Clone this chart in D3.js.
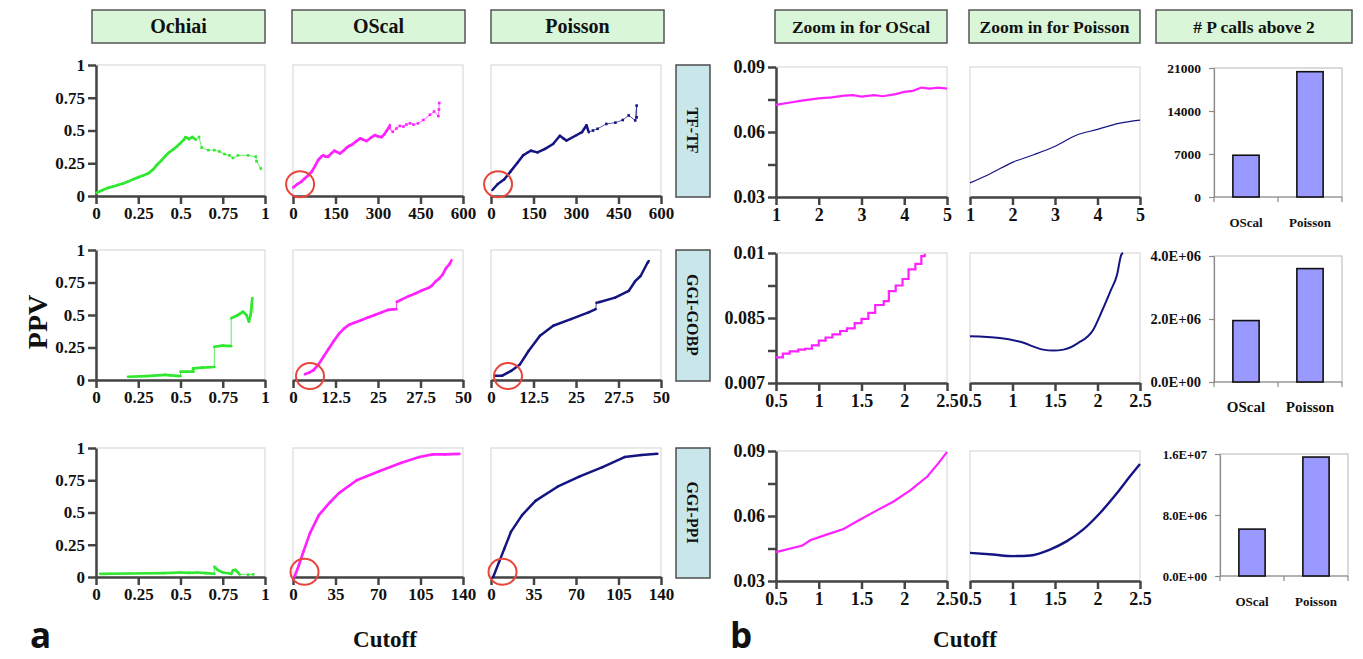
<!DOCTYPE html>
<html>
<head>
  <meta charset="utf-8"/>
  <title>PPV vs cutoff</title>
  <style>
    body { margin: 0; background: #fff; }
    text { font-family: "Liberation Serif", "Times New Roman", serif; font-weight: bold; fill: #111; }
  </style>
</head>
<body>
    <div id="graph"></div>
</body>
<script src="https://cdn.jsdelivr.net/npm/d3@7"></script>

<script>
    // ---- data ----
    var headersLeft = ["Ochiai", "OScal", "Poisson"];
    var headersRight = ["Zoom in for OScal", "Zoom in for Poisson", "# P calls above 2"];
    var rowNames = ["TF-TF", "GGI-GOBP", "GGI-PPI"];
    var barCats = ["OScal", "Poisson"];

    var ochiaiTicks = [0, 0.25, 0.5, 0.75, 1];
    var ochiaiLabels = ["0", "0.25", "0.5", "0.75", "1"];
    var cutoffTicks = [[0, 150, 300, 450, 600], [0, 12.5, 25, 37.5, 50], [0, 35, 70, 105, 140]];
    var cutoffLabels = [["0", "150", "300", "450", "600"], ["0", "12.5", "25", "27.5", "50"], ["0", "35", "70", "105", "140"]];
    var zoomXTicks = [[1, 2, 3, 4, 5], [0.5, 1, 1.5, 2, 2.5], [0.5, 1, 1.5, 2, 2.5]];
    var zoomXLabels = [["1", "2", "3", "4", "5"], ["0.5", "1", "1.5", "2", "2.5"], ["0.5", "1", "1.5", "2", "2.5"]];
    var zoomYTicks = [[0.03, 0.045, 0.06, 0.075, 0.09], [0.07, 0.0775, 0.085, 0.0925, 0.1], [0.03, 0.045, 0.06, 0.075, 0.09]];
    var zoomYLabels = [["0.03", "", "0.06", "", "0.09"], ["0.007", "", "0.085", "", "0.01"], ["0.03", "", "0.06", "", "0.09"]];
    var barYTicks = [[0, 7000, 14000, 21000], [0, 2e6, 4e6], [0, 8e6, 1.6e7]];
    var barYLabels = [["0", "7000", "14000", "21000"], ["0.0E+00", "2.0E+06", "4.0E+06"], ["0.0E+00", "8.0E+06", "1.6E+07"]];

    var ochiaiTF = [[0.004,0.025],[0.04,0.045],[0.073,0.063],[0.1,0.072],[0.13,0.084],[0.16,0.095],[0.19,0.11],[0.22,0.127],[0.25,0.143],[0.28,0.157],[0.31,0.173],[0.34,0.205],[0.36,0.237],[0.39,0.275],[0.41,0.305],[0.43,0.33],[0.457,0.356],[0.48,0.38],[0.497,0.40],[0.52,0.43],[0.53,0.45],[0.55,0.435],[0.57,0.45],[0.59,0.43],[0.61,0.45],[0.625,0.37],[0.665,0.35],[0.70,0.35],[0.73,0.34],[0.76,0.32],[0.79,0.31],[0.81,0.29],[0.84,0.31],[0.90,0.31],[0.945,0.30],[0.95,0.265],[0.975,0.21]];
    var ochiaiGOBP = [[0.19,0.025],[0.3,0.03],[0.41,0.04],[0.44,0.035],[0.5,0.03],[0.5,0.064],[0.575,0.064],[0.575,0.09],[0.63,0.095],[0.7,0.1],[0.7,0.256],[0.75,0.265],[0.8,0.26],[0.8,0.475],[0.84,0.5],[0.87,0.525],[0.89,0.5],[0.905,0.45],[0.915,0.5],[0.925,0.63],[0.93,0.52]];
    var ochiaiPPI = [[0.025,0.025],[0.2,0.027],[0.4,0.03],[0.5,0.035],[0.55,0.032],[0.6,0.035],[0.65,0.03],[0.7,0.025],[0.7,0.08],[0.72,0.055],[0.75,0.035],[0.8,0.025],[0.81,0.05],[0.825,0.055],[0.84,0.035],[0.85,0.02],[0.9,0.018],[0.93,0.02]];

    var oscalTF = [[1,0.066],[15,0.09],[30,0.11],[42,0.135],[55,0.16],[66,0.185],[78,0.23],[89,0.275],[100,0.3],[107,0.31],[115,0.3],[124,0.30],[135,0.325],[146,0.346],[156,0.335],[166,0.325],[178,0.345],[190,0.37],[200,0.385],[207,0.39],[222,0.415],[237,0.44],[248,0.43],[260,0.42],[275,0.445],[289,0.465],[300,0.455],[313,0.45],[322,0.47],[331,0.50],[338,0.52],[342,0.54],[346,0.5],[352,0.49],[365,0.515],[377,0.535],[390,0.53],[400,0.545],[413,0.555],[425,0.545],[441,0.555],[460,0.58],[483,0.62],[498,0.645],[513,0.61],[515,0.66],[516,0.71]];
    var poissonTF = [[5,0.046],[23,0.09],[47,0.128],[70,0.19],[94,0.256],[113,0.31],[128,0.33],[141,0.346],[164,0.333],[191,0.36],[219,0.397],[243,0.46],[255,0.44],[266,0.423],[298,0.46],[321,0.487],[337,0.54],[345,0.487],[360,0.5],[376,0.513],[407,0.55],[439,0.56],[465,0.58],[486,0.615],[509,0.577],[514,0.69],[514,0.6]];
    var oscalGOBP = [[3.5,0.045],[5,0.06],[6,0.075],[7.5,0.12],[9,0.18],[10.5,0.24],[12,0.3],[13.5,0.355],[15,0.395],[16.5,0.425],[18,0.44],[20,0.46],[22,0.48],[24,0.5],[26,0.52],[28,0.54],[30.4,0.545],[30.5,0.6],[32,0.62],[34,0.645],[36,0.665],[38,0.69],[40,0.71],[41,0.73],[42,0.76],[43,0.78],[44,0.81],[45,0.86],[46,0.89],[46.6,0.92]];
    var poissonGOBP = [[1,0.033],[3.3,0.033],[5.9,0.07],[8.5,0.12],[11.1,0.225],[14.4,0.34],[18.3,0.417],[23.5,0.468],[28.7,0.52],[30.8,0.545],[31,0.595],[32,0.6],[36.5,0.634],[40.5,0.685],[42.4,0.76],[44,0.8],[46,0.9],[46.4,0.915]];
    var oscalPPI = [[1.1,0],[4.8,0.09],[8.5,0.195],[14,0.34],[21.3,0.48],[30.5,0.58],[37.8,0.65],[52.5,0.75],[70.9,0.82],[89.3,0.885],[104,0.93],[115,0.95],[125,0.95],[137,0.955]];
    var poissonPPI = [[1.8,0],[6.6,0.115],[11,0.22],[16.4,0.35],[25.6,0.48],[36.6,0.59],[54.8,0.70],[73.1,0.78],[91.4,0.85],[110,0.93],[124,0.945],[137,0.955]];

    var zoomOscalTF = [[1,0.0725],[1.3,0.0735],[1.6,0.0745],[2,0.0755],[2.3,0.076],[2.6,0.0768],[2.8,0.077],[3,0.0763],[3.3,0.077],[3.5,0.0765],[3.8,0.0775],[4,0.0785],[4.2,0.079],[4.4,0.0805],[4.6,0.08],[4.8,0.0805],[5,0.08]];
    var zoomPoissonTF = [[1,0.0365],[1.5,0.041],[2,0.046],[2.5,0.0495],[3,0.0534],[3.5,0.0585],[4,0.0612],[4.5,0.064],[5,0.0655]];
    var zoomOscalGOBP = [[0.5,0.0759],[0.58,0.0768],[0.66,0.0773],[0.76,0.0777],[0.84,0.0779],[0.92,0.0787],[1.0,0.0798],[1.08,0.0805],[1.16,0.0812],[1.25,0.082],[1.33,0.0826],[1.42,0.0838],[1.5,0.0848],[1.58,0.0862],[1.66,0.088],[1.76,0.0889],[1.82,0.0912],[1.9,0.0925],[1.98,0.094],[2.05,0.0962],[2.13,0.0975],[2.2,0.0993],[2.24,0.0998]];
    var zoomPoissonGOBP = [[0.5,0.0808],[0.85,0.0804],[1.09,0.0795],[1.36,0.0777],[1.48,0.0775],[1.6,0.0777],[1.77,0.0792],[1.95,0.0823],[2.05,0.0865],[2.15,0.0911],[2.23,0.095],[2.28,0.0996],[2.3,0.1]];
    var zoomOscalPPI = [[0.5,0.0433],[0.81,0.0464],[0.9,0.0488],[1.09,0.0514],[1.29,0.054],[1.48,0.0583],[1.68,0.0626],[1.875,0.0667],[2.07,0.0718],[2.27,0.0782],[2.4,0.0844],[2.5,0.0895]];
    var zoomPoissonPPI = [[0.5,0.043],[0.77,0.0422],[1.01,0.0415],[1.21,0.0418],[1.44,0.0445],[1.64,0.0484],[1.83,0.0537],[2.03,0.0614],[2.23,0.0706],[2.38,0.0782],[2.5,0.084]];

    var barsTF = [6800, 20400];
    var barsGOBP = [1950000, 3600000];
    var barsPPI = [6150000, 15600000];

    var circleSpots = [[25, 0.09], [5, 0.03], [9.5, 0.04]];

    // ---- layout ----
    var W = 1363, H = 659;
    var green = "#2fe82f", magenta = "#ff22ff", navy = "#141483";
    var rowTop = [65, 250, 448], rowBot = [196, 380, 577];
    var zoomTop = [67, 253, 451], zoomBot = [197, 383, 581];
    var barTop = [68, 256, 454], barBot = [197, 382, 576];
    var colX = [[96, 265], [293, 463], [491, 661]];
    var zoomX = [[776, 947], [970, 1140]];
    var barX = [[1214, 1342], [1214, 1342], [1220, 1348]];

    var svg = d3.select("#graph").append("svg")
                .attr("width", W)
                .attr("height", H);

    function styleAxis(ax, fs, color, w) {
      ax.attr("font-size", fs).attr("font-family", "Liberation Serif, serif");
      ax.select(".domain").attr("stroke", color).attr("stroke-width", w);
      ax.selectAll(".tick line").attr("stroke", color).attr("stroke-width", w);
    }

    function linePanel(p) {
      var x = d3.scaleLinear().domain(p.xd).range(p.xr);
      var y = d3.scaleLinear().domain(p.yd).range([p.bot, p.top]);
      var g = svg.append("g");
      g.append("rect")
        .attr("x", p.xr[0]).attr("y", p.top)
        .attr("width", p.xr[1] - p.xr[0]).attr("height", p.bot - p.top)
        .attr("fill", "none").attr("stroke", "#dadada").attr("stroke-width", 1.2);
      var xa = g.append("g")
        .attr("transform", "translate(0," + p.bot + ")")
        .call(d3.axisBottom(x).tickValues(p.xt)
          .tickFormat(function(d, i) { return p.xl[i]; })
          .tickSize(8).tickPadding(3).tickSizeOuter(0));
      styleAxis(xa, p.fs, "#444", 2.5);
      if (p.yt) {
        var ya = g.append("g")
          .attr("transform", "translate(" + p.xr[0] + ",0)")
          .call(d3.axisLeft(y).tickValues(p.yt)
            .tickFormat(function(d, i) { return p.yl[i]; })
            .tickSize(8).tickPadding(3).tickSizeOuter(0));
        styleAxis(ya, p.fs, "#444", 2.5);
      }
      return {g: g, x: x, y: y};
    }

    // thick where the points are dense, thin line + dots where sparse,
    // hairline on vertical jumps
    function drawSegments(pn, pts, color, denseUntil, thick) {
      pn.g.append("g").selectAll("line").data(d3.pairs(pts)).join("line")
        .attr("x1", function(d) { return pn.x(d[0][0]); })
        .attr("y1", function(d) { return pn.y(d[0][1]); })
        .attr("x2", function(d) { return pn.x(d[1][0]); })
        .attr("y2", function(d) { return pn.y(d[1][1]); })
        .attr("stroke", color)
        .attr("stroke-linecap", "round")
        .attr("stroke-width", function(d) {
          if (d[1][0] > denseUntil) return 0.7;
          var dx = Math.abs(pn.x(d[1][0]) - pn.x(d[0][0]));
          var dy = Math.abs(pn.y(d[1][1]) - pn.y(d[0][1]));
          return (dx < 1.5 && dy > 4) ? 0.8 : thick;
        });
      pn.g.append("g").selectAll("rect")
        .data(pts.filter(function(d) { return d[0] > denseUntil; }))
        .join("rect")
        .attr("x", function(d) { return pn.x(d[0]) - 1.3; })
        .attr("y", function(d) { return pn.y(d[1]) - 1.3; })
        .attr("width", 2.6).attr("height", 2.6)
        .attr("fill", color);
    }

    function drawPath(pn, pts, color, w, curve) {
      var line = d3.line()
        .x(function(d) { return pn.x(d[0]); })
        .y(function(d) { return pn.y(d[1]); })
        .curve(curve || d3.curveMonotoneX);
      pn.g.append("path").datum(pts)
        .attr("d", line)
        .attr("fill", "none")
        .attr("stroke", color)
        .attr("stroke-width", w);
    }

    function drawCircle(pn, spot) {
      pn.g.append("ellipse")
        .attr("cx", pn.x(spot[0])).attr("cy", pn.y(spot[1]))
        .attr("rx", 14).attr("ry", 13)
        .attr("fill", "none").attr("stroke", "#e8463c").attr("stroke-width", 2);
    }

    function barPanel(r, vals) {
      var x = d3.scaleBand().domain(barCats).range(barX[r]).paddingInner(0.59).paddingOuter(0.295);
      var yt = barYTicks[r];
      var y = d3.scaleLinear().domain([0, yt[yt.length - 1]]).range([barBot[r], barTop[r]]);
      var g = svg.append("g");
      var fsY = [13.5, 14.5, 12.7][r], fsX = [13, 15, 13][r];
      g.append("rect")
        .attr("x", barX[r][0]).attr("y", barTop[r])
        .attr("width", barX[r][1] - barX[r][0]).attr("height", barBot[r] - barTop[r])
        .attr("fill", "none").attr("stroke", "#b5b5b5").attr("stroke-width", 1);
      var ya = g.append("g")
        .attr("transform", "translate(" + barX[r][0] + ",0)")
        .call(d3.axisLeft(y).tickValues(yt)
          .tickFormat(function(d, i) { return barYLabels[r][i]; })
          .tickSize(5).tickPadding(8).tickSizeOuter(0));
      styleAxis(ya, fsY, "#8a8a8a", 1.2);
      // bottom axis: ticks on the category boundaries
      var bounds = [barX[r][0], (x("OScal") + x.bandwidth() + x("Poisson")) / 2, barX[r][1]];
      g.append("line")
        .attr("x1", barX[r][0]).attr("x2", barX[r][1])
        .attr("y1", barBot[r]).attr("y2", barBot[r])
        .attr("stroke", "#8a8a8a").attr("stroke-width", 1.2);
      g.selectAll(".bt").data(bounds).join("line")
        .attr("x1", function(d) { return d; }).attr("x2", function(d) { return d; })
        .attr("y1", barBot[r]).attr("y2", barBot[r] + 5)
        .attr("stroke", "#8a8a8a").attr("stroke-width", 1.2);
      g.selectAll(".bar").data(vals).join("rect")
        .attr("x", function(d, i) { return x(barCats[i]); })
        .attr("width", x.bandwidth())
        .attr("y", function(d) { return y(d); })
        .attr("height", function(d) { return barBot[r] - y(d); })
        .attr("fill", "#9999ff").attr("stroke", "#111").attr("stroke-width", 1.6);
      g.selectAll(".cat").data(barCats).join("text")
        .attr("x", function(d) { return x(d) + x.bandwidth() / 2; })
        .attr("y", barBot[r] + 30)
        .attr("text-anchor", "middle")
        .attr("font-size", fsX)
        .text(function(d) { return d; });
    }

    // ---- headers ----
    var headerBoxes = [[92, 265], [292, 465], [491, 664], [775, 947], [969, 1140], [1156, 1352]];
    var headerText = headersLeft.concat(headersRight);
    headerBoxes.forEach(function(b, i) {
      svg.append("rect").attr("x", b[0]).attr("y", 10).attr("width", b[1] - b[0]).attr("height", 33)
        .attr("fill", "#d9f6d9").attr("stroke", "#555").attr("stroke-width", 1.5);
      svg.append("text").attr("x", (b[0] + b[1]) / 2).attr("y", 33)
        .attr("text-anchor", "middle").attr("font-size", i < 3 ? 20 : 17.5)
        .text(headerText[i]);
    });

    // ---- rows ----
    var ochiaiData = [ochiaiTF, ochiaiGOBP, ochiaiPPI];
    var oscalData = [oscalTF, oscalGOBP, oscalPPI];
    var poissonData = [poissonTF, poissonGOBP, poissonPPI];
    var zoomOscal = [zoomOscalTF, zoomOscalGOBP, zoomOscalPPI];
    var zoomPoisson = [zoomPoissonTF, zoomPoissonGOBP, zoomPoissonPPI];
    var barData = [barsTF, barsGOBP, barsPPI];
    var ochiaiDense = [0.6, 1, 0.86];
    var cutDense = [350, 1000, 1000];

    rowNames.forEach(function(name, r) {
      var base = {top: rowTop[r], bot: rowBot[r], yd: [0, 1], fs: 17};
      var pO = linePanel(Object.assign({}, base, {xr: colX[0], xd: [0, 1], xt: ochiaiTicks, xl: ochiaiLabels, yt: ochiaiTicks, yl: ochiaiLabels}));
      drawSegments(pO, ochiaiData[r], green, ochiaiDense[r], 2.7);

      var ct = cutoffTicks[r];
      var cutBase = Object.assign({}, base, {xd: [0, ct[ct.length - 1]], xt: ct, xl: cutoffLabels[r]});
      var pS = linePanel(Object.assign({}, cutBase, {xr: colX[1]}));
      drawSegments(pS, oscalData[r], magenta, cutDense[r], 2.7);
      drawCircle(pS, circleSpots[r]);
      var pP = linePanel(Object.assign({}, cutBase, {xr: colX[2]}));
      drawSegments(pP, poissonData[r], navy, cutDense[r], 2.5);
      drawCircle(pP, circleSpots[r]);

      // row label box
      svg.append("rect").attr("x", 676).attr("y", rowTop[r]).attr("width", 34).attr("height", rowBot[r] - rowTop[r] + 1)
        .attr("fill", "#c9e7ea").attr("stroke", "#4d4d4d").attr("stroke-width", 1.5);
      svg.append("text")
        .attr("transform", "translate(687," + (rowTop[r] + rowBot[r]) / 2 + ") rotate(90)")
        .attr("text-anchor", "middle").attr("font-size", 16)
        .text(name);

      // zoom panels
      var yt = zoomYTicks[r], xt = zoomXTicks[r];
      var zBase = {top: zoomTop[r], bot: zoomBot[r], yd: [yt[0], yt[yt.length - 1]],
                   xd: [xt[0], xt[xt.length - 1]], xt: xt, xl: zoomXLabels[r], fs: 18};
      var zS = linePanel(Object.assign({}, zBase, {xr: zoomX[0], yt: yt, yl: zoomYLabels[r]}));
      drawPath(zS, zoomOscal[r], magenta, 2.2, r === 1 ? d3.curveStepAfter : d3.curveLinear);
      var zP = linePanel(Object.assign({}, zBase, {xr: zoomX[1]}));
      drawPath(zP, zoomPoisson[r], navy, [1.2, 2, 2.4][r]);

      barPanel(r, barData[r]);
    });

    // ---- outer labels ----
    svg.append("text").attr("transform", "translate(47,322) rotate(-90)")
      .attr("text-anchor", "middle").attr("font-size", 28).text("PPV");
    svg.append("text").attr("x", 385).attr("y", 647).attr("text-anchor", "middle").attr("font-size", 23).text("Cutoff");
    svg.append("text").attr("x", 965).attr("y", 647).attr("text-anchor", "middle").attr("font-size", 23).text("Cutoff");
    svg.append("text").attr("x", 30).attr("y", 648).attr("font-size", 35)
      .style("font-family", "'Open Sans', sans-serif").text("a");
    svg.append("text").attr("x", 730).attr("y", 648).attr("font-size", 35)
      .style("font-family", "'Open Sans', sans-serif").text("b");
</script>
</html>
